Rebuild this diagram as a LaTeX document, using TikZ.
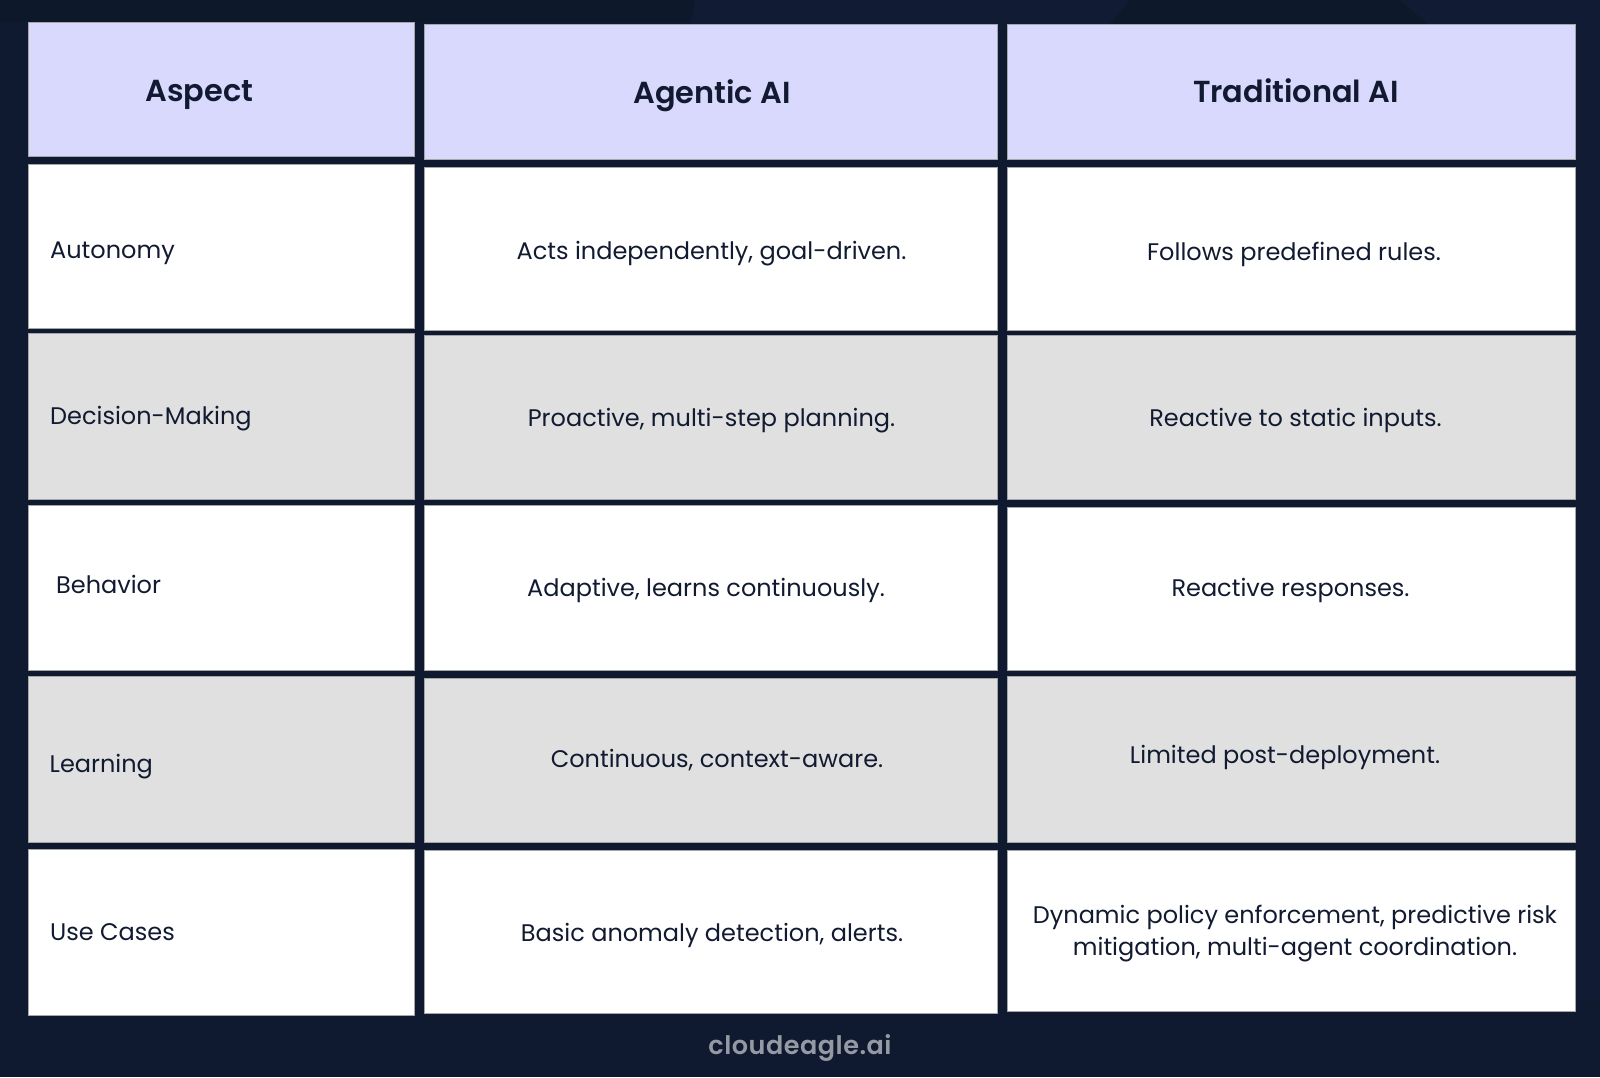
\documentclass[tikz,border=0pt]{standalone}
\usepackage{fontspec}
\setmainfont{Poppins}
\newfontfamily\headfont{Poppins SemiBold}
\newfontfamily\logofont[LetterSpace=2]{Poppins SemiBold}
\definecolor{pagebg}{HTML}{0F1A30}
\definecolor{pagelight}{HTML}{111C34}
\definecolor{pagedark}{HTML}{0E182B}
\definecolor{headbg}{HTML}{D9D9FE}
\definecolor{greybg}{HTML}{E0E0E0}
\definecolor{inktext}{HTML}{111A30}
\definecolor{logotext}{HTML}{9599A3}
\tikzset{
    headcell/.style={draw=gray!70, line width=0.8pt, fill=headbg},
    whitecell/.style={draw=gray!70, line width=0.8pt, fill=white},
    greycell/.style={draw=gray!70, line width=0.8pt, fill=greybg},
    headtext/.style={anchor=base, inner sep=0pt, text=inktext, font=\headfont\fontsize{30.4}{36}\selectfont},
    celltext/.style={anchor=base, inner sep=0pt, text=inktext, align=center, font=\fontsize{24}{32}\selectfont},
    sidetext/.style={celltext, anchor=base west},
    logomark/.style={anchor=base, inner sep=0pt, text=logotext, font=\logofont\fontsize{25.5}{30}\selectfont}
}
\begin{document}
\begin{tikzpicture}[x=1pt, y=-1pt]
        \useasboundingbox (0,0) rectangle (1600,1077);
        \fill[pagebg] (0,0) rectangle (1600,1077);
        \fill[pagelight] (695,0) -- (1130,0) -- (1110,30) -- (690,30) -- cycle;
        \fill[pagedark] (0,0) -- (695,0) -- (690,22) -- (0,22) -- cycle;
        \fill[pagedark] (1130,0) -- (1400,0) -- (1435,30) -- (1105,30) -- cycle;
        \fill[pagelight] (1400,0) -- (1600,0) -- (1600,1000) -- (1576,1000) -- (1576,30) -- (1435,30) -- cycle;
        % first column
        \draw[headcell] (28.5,22) rectangle (414.5,156.5);
        \draw[whitecell] (28.5,164) rectangle (414.5,328);
        \draw[greycell] (28.5,333) rectangle (414.5,499.5);
        \draw[whitecell] (28.5,505) rectangle (414.5,670.5);
        \draw[greycell] (28.5,676) rectangle (414.5,842);
        \draw[whitecell] (28.5,849) rectangle (414.5,1015);
        % second column
        \draw[headcell] (424,24) rectangle (997.5,159.5);
        \draw[whitecell] (424,167) rectangle (997.5,330.5);
        \draw[greycell] (424,335) rectangle (997.5,499.5);
        \draw[whitecell] (424,505) rectangle (997.5,670.5);
        \draw[greycell] (424,678) rectangle (997.5,842);
        \draw[whitecell] (424,850) rectangle (997.5,1013.5);
        % third column
        \draw[headcell] (1007.5,24) rectangle (1575.5,159.5);
        \draw[whitecell] (1007.5,167) rectangle (1575.5,330.5);
        \draw[greycell] (1007.5,335) rectangle (1575.5,499.5);
        \draw[whitecell] (1007.5,507) rectangle (1575.5,670.5);
        \draw[greycell] (1007.5,676) rectangle (1575.5,842);
        \draw[whitecell] (1007.5,850) rectangle (1575.5,1011.5);
        % labels
        \node[headtext] (aspect) at (199.5,101) {Aspect};
        \node[headtext] (agentic) at (712,103) {Agentic AI};
        \node[headtext] (traditional) at (1296,102) {Traditional AI};
        \node[sidetext] (autonomy) at (50,258) {Autonomy};
        \node[sidetext] (decision) at (50,424.5) {Decision-Making};
        \node[sidetext] (behavior) at (56,593) {Behavior};
        \node[sidetext] (learning) at (49.5,772) {Learning};
        \node[sidetext] (usecases) at (50,940) {Use Cases};
        \node[celltext] (acts) at (711.5,259) {Acts independently, goal-driven.};
        \node[celltext] (proactive) at (711.5,426) {Proactive, multi-step planning.};
        \node[celltext] (adaptive) at (706,596) {Adaptive, learns continuously.};
        \node[celltext] (continuous) at (717,767) {Continuous, context-aware.};
        \node[celltext] (basic) at (712,941) {Basic anomaly detection, alerts.};
        \node[celltext] (follows) at (1294,260) {Follows predefined rules.};
        \node[celltext] (reactive) at (1295.5,426) {Reactive to static inputs.};
        \node[celltext] (responses) at (1290.5,596) {Reactive responses.};
        \node[celltext] (limited) at (1285,763.5) {Limited post-deployment.};
        \node[celltext] (dynamic) at (1295,955.5) {Dynamic policy enforcement, predictive risk\\mitigation, multi-agent coordination.};
        \node[logomark] (logo) at (800,1054) {cloudeagle.ai};
    \end{tikzpicture}
\end{document}
